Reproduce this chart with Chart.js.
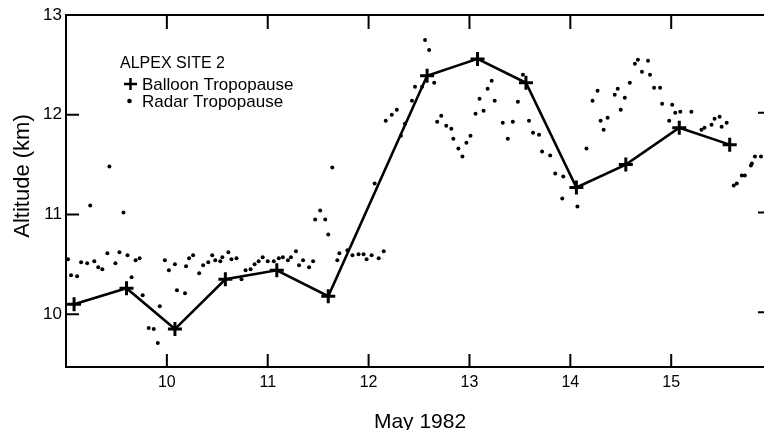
<!DOCTYPE html>
<html>
<head>
<meta charset="utf-8">
<script src="https://cdn.jsdelivr.net/npm/chart.js@4/dist/chart.umd.min.js"></script>
<style>
  body { margin: 0; background: #fff; }
  #wrap { width: 764px; height: 430px; }
</style>
</head>
<body>
<div id="wrap"><canvas id="chart"></canvas></div>
<script>
// Tick labels
const xTicks = [10, 11, 12, 13, 14, 15];
const yTicks = [10, 11, 12, 13];

// Balloon tropopause (day of May 1982, km)
const balloonDay = [9.08, 9.60, 10.08, 10.58, 11.09, 11.60, 12.58, 13.08, 13.56, 14.06, 14.55, 15.08, 15.58];
const balloonAlt = [10.10, 10.26, 9.85, 10.35, 10.44, 10.18, 12.39, 12.56, 12.32, 11.27, 11.50, 11.87, 11.70];

// Radar tropopause
const radarDay = [
  9.02, 9.05, 9.11, 9.15, 9.21, 9.24, 9.28, 9.32, 9.36, 9.41,
  9.43, 9.49, 9.53, 9.57, 9.61, 9.65, 9.69, 9.73, 9.76, 9.82,
  9.87, 9.91, 9.93, 9.98, 10.02, 10.08, 10.10, 10.18, 10.19, 10.22,
  10.26, 10.32, 10.36, 10.41, 10.45, 10.48, 10.53, 10.55, 10.61, 10.64,
  10.69, 10.74, 10.78, 10.83, 10.87, 10.91, 10.95, 11.00, 11.06, 11.11,
  11.15, 11.20, 11.23, 11.28, 11.31, 11.35, 11.41, 11.45, 11.47, 11.52,
  11.57, 11.60, 11.64, 11.69, 11.71, 11.79, 11.84, 11.90, 11.95, 11.98,
  12.03, 12.10, 12.15, 12.06, 12.17, 12.23, 12.28, 12.32, 12.36, 12.43,
  12.46, 12.53, 12.56, 12.60, 12.65, 12.68, 12.72, 12.77, 12.82, 12.84,
  12.89, 12.93, 12.97, 13.01, 13.06, 13.10, 13.14, 13.18, 13.22, 13.25,
  13.33, 13.38, 13.43, 13.48, 13.53, 13.59, 13.63, 13.69, 13.72, 13.80,
  13.85, 13.93, 13.92, 14.07, 14.16, 14.22, 14.27, 14.30, 14.33, 14.37,
  14.44, 14.47, 14.50, 14.54, 14.59, 14.64, 14.67, 14.71, 14.77, 14.79,
  14.83, 14.89, 14.91, 14.98, 15.01, 15.04, 15.09, 15.20, 15.30, 15.33,
  15.40, 15.43, 15.48, 15.50, 15.55, 15.62, 15.65, 15.70, 15.73, 15.79,
  15.80, 15.83, 15.89
];
const radarAlt = [
  10.55, 10.39, 10.38, 10.52, 10.51, 11.09, 10.53, 10.47, 10.45, 10.61,
  11.48, 10.51, 10.62, 11.02, 10.59, 10.37, 10.54, 10.56, 10.19, 9.86,
  9.85, 9.71, 10.08, 10.54, 10.44, 10.50, 10.24, 10.21, 10.48, 10.56,
  10.59, 10.41, 10.49, 10.52, 10.59, 10.54, 10.53, 10.57, 10.62, 10.55,
  10.56, 10.35, 10.44, 10.45, 10.50, 10.53, 10.57, 10.53, 10.53, 10.56,
  10.57, 10.54, 10.57, 10.63, 10.49, 10.54, 10.47, 10.53, 10.95, 11.04,
  10.95, 10.80, 11.47, 10.54, 10.61, 10.64, 10.59, 10.60, 10.60, 10.55,
  10.59, 10.56, 10.63, 11.31, 11.94, 12.00, 12.05, 11.79, 11.91, 12.14,
  12.28, 12.28, 12.75, 12.65, 12.32, 11.93, 11.99, 11.89, 11.86, 11.76,
  11.66, 11.58, 11.72, 11.79, 12.01, 12.16, 12.04, 12.26, 12.34, 12.14,
  11.92, 11.76, 11.93, 12.13, 12.40, 11.94, 11.82, 11.80, 11.63, 11.59,
  11.41, 11.38, 11.16, 11.08, 11.66, 12.14, 12.24, 11.94, 11.85, 11.97,
  12.20, 12.26, 12.05, 12.17, 12.32, 12.51, 12.55, 12.43, 12.54, 12.40,
  12.27, 12.27, 12.11, 11.94, 12.10, 12.02, 12.03, 12.03, 11.85, 11.87,
  11.90, 11.96, 11.98, 11.88, 11.92, 11.29, 11.31, 11.39, 11.39, 11.49,
  11.51, 11.58, 11.58
];

const FONT = '"Liberation Sans", Arial, Helvetica, sans-serif';

const balloonPoints = balloonDay.map((d, i) => ({ x: d, y: balloonAlt[i] }));
const radarPoints = radarDay.map((d, i) => ({ x: d, y: radarAlt[i] }));

// Frame, inward ticks, axis titles and the in-plot key
const framePlugin = {
  id: 'frame',
  afterDraw(chart) {
    const { ctx, chartArea: a, scales: { x, y } } = chart;
    ctx.save();
    ctx.strokeStyle = '#000';
    ctx.lineWidth = 2;
    ctx.beginPath();
    ctx.moveTo(a.right, a.top);
    ctx.lineTo(a.left, a.top);
    ctx.lineTo(a.left, a.bottom);
    ctx.lineTo(a.right, a.bottom);
    xTicks.forEach(v => {
      const px = x.getPixelForValue(v);
      ctx.moveTo(px, a.bottom);
      ctx.lineTo(px, a.bottom - 13);
      ctx.moveTo(px, a.top);
      ctx.lineTo(px, a.top + 14);
    });
    yTicks.slice(0, 3).forEach(v => {
      const py = y.getPixelForValue(v);
      ctx.moveTo(a.left, py);
      ctx.lineTo(a.left + 13, py);
      ctx.moveTo(a.right, py - 2);
      ctx.lineTo(a.right - 6, py - 2);
    });
    ctx.stroke();

    ctx.fillStyle = '#000';
    // x title
    ctx.font = '21px ' + FONT;
    ctx.textAlign = 'center';
    ctx.textBaseline = 'alphabetic';
    ctx.fillText('May 1982', 420, 428);
    // y title
    ctx.save();
    ctx.translate(29, 176);
    ctx.rotate(-Math.PI / 2);
    ctx.font = '22px ' + FONT;
    ctx.fillText('Altitude (km)', 0, 0);
    ctx.restore();

    // key
    ctx.textAlign = 'left';
    ctx.font = '16px ' + FONT;
    ctx.fillText('ALPEX SITE 2', 120, 68);
    ctx.font = '17px ' + FONT;
    ctx.fillText('Balloon Tropopause', 142, 90);
    ctx.fillText('Radar Tropopause', 142, 107);
    ctx.lineWidth = 2.5;
    ctx.beginPath();
    ctx.moveTo(124, 84); ctx.lineTo(137, 84);
    ctx.moveTo(130.5, 78); ctx.lineTo(130.5, 90);
    ctx.stroke();
    ctx.beginPath();
    ctx.arc(129.5, 101, 2.3, 0, Math.PI * 2);
    ctx.fill();
    ctx.restore();
  }
};

new Chart(document.getElementById('chart'), {
  type: 'scatter',
  data: {
    datasets: [
      {
        label: 'Balloon Tropopause',
        data: balloonPoints,
        showLine: true,
        borderColor: '#000',
        backgroundColor: '#000',
        borderWidth: 2.6,
        pointStyle: 'cross',
        pointRadius: 7,
        pointBorderWidth: 3,
        tension: 0
      },
      {
        label: 'Radar Tropopause',
        data: radarPoints,
        showLine: false,
        borderColor: '#000',
        backgroundColor: '#000',
        pointStyle: 'circle',
        pointRadius: 2,
        pointBorderWidth: 0
      }
    ]
  },
  options: {
    responsive: true,
    maintainAspectRatio: false,
    animation: false,
    layout: { autoPadding: false, padding: { top: 15, right: 0, left: 0, bottom: 0 } },
    plugins: {
      legend: { display: false },
      tooltip: { enabled: false }
    },
    scales: {
      x: {
        type: 'linear',
        min: 9,
        max: 15.92,
        afterBuildTicks: s => { s.ticks = xTicks.map(v => ({ value: v })); },
        afterFit: s => { s.height = 63; s.paddingLeft = 0; s.paddingRight = 0; },
        grid: { display: false, drawTicks: false },
        border: { display: false },
        ticks: {
          color: '#000',
          padding: 6,
          font: { family: FONT, size: 16 }
        }
      },
      y: {
        type: 'linear',
        min: 9.47,
        max: 13,
        afterBuildTicks: s => { s.ticks = yTicks.map(v => ({ value: v })); },
        afterFit: s => { s.width = 66; },
        grid: { display: false, drawTicks: false },
        border: { display: false },
        ticks: {
          color: '#000',
          padding: 4,
          font: { family: FONT, size: 17 }
        }
      }
    }
  },
  plugins: [framePlugin]
});
</script>
</body>
</html>
